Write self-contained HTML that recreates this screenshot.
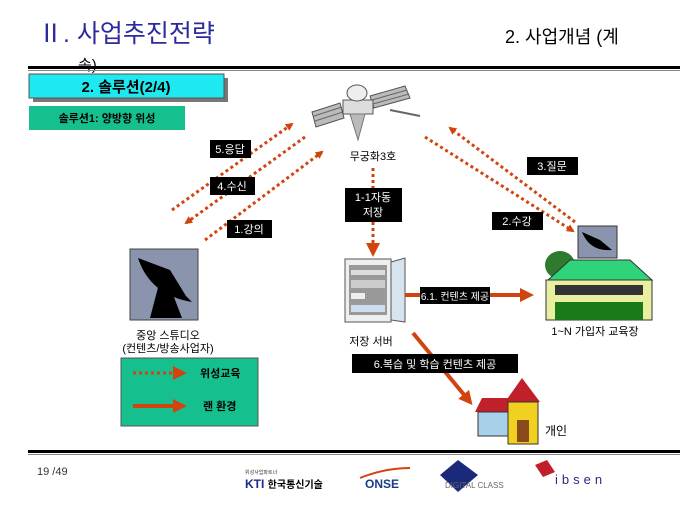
<!DOCTYPE html>
<html><head><meta charset="utf-8"><style>
html,body{margin:0;padding:0;background:#fff;}
svg{display:block;}
text{font-family:"Liberation Sans","Noto Sans CJK KR",sans-serif;}
</style></head><body>
<svg width="680" height="510" viewBox="0 0 680 510" xmlns="http://www.w3.org/2000/svg">
<defs>
<marker id="ah" markerWidth="8" markerHeight="8" refX="6" refY="4" orient="auto" markerUnits="userSpaceOnUse">
<path d="M0,0 L8,4 L0,8 z" fill="#d2440f"/></marker>
<marker id="ah2" markerWidth="14" markerHeight="14" refX="10" refY="7" orient="auto" markerUnits="userSpaceOnUse">
<path d="M0,0 L14,7 L0,14 z" fill="#d2440f"/></marker>
</defs>
<text x="38" y="42" font-size="25" fill="#2b2b9c">Ⅱ. 사업추진전략</text>
<text x="505" y="43" font-size="18" fill="#000">2. 사업개념 (계</text>
<text x="78" y="70" font-size="15" fill="#000">속)</text>
<rect x="28" y="66" width="652" height="3" fill="#000"/>
<rect x="28" y="70" width="652" height="1" fill="#888"/>
<rect x="33" y="78" width="195" height="24" fill="#777"/>
<rect x="29" y="74" width="195" height="24" fill="#1ee8f0" stroke="#555" stroke-width="1"/>
<text x="126" y="92" font-size="15" font-weight="bold" text-anchor="middle">2. 솔루션(2/4)</text>
<rect x="29" y="106" width="156" height="24" fill="#16c08e"/>
<text x="107" y="122" font-size="11" font-weight="bold" text-anchor="middle">솔루션1: 양방향 위성</text>
<g>
<polygon points="312,112 340,103 344,118 316,127" fill="#bbb" stroke="#555"/>
<line x1="314" y1="116" x2="342" y2="107" stroke="#666"/><line x1="315" y1="121" x2="343" y2="112" stroke="#666"/>
<polygon points="370,96 405,86 410,98 374,108" fill="#bbb" stroke="#555"/>
<line x1="372" y1="100" x2="407" y2="90" stroke="#666"/><line x1="373" y1="104" x2="409" y2="94" stroke="#666"/>
<line x1="390" y1="110" x2="420" y2="116" stroke="#666" stroke-width="2"/>
<rect x="343" y="100" width="30" height="14" fill="#ddd" stroke="#555"/>
<ellipse cx="357" cy="93" rx="10" ry="8" fill="#eee" stroke="#555"/>
<polygon points="350,114 365,114 358,140" fill="#bbb" stroke="#777"/>
</g>
<text x="373" y="160" font-size="11" text-anchor="middle">무궁화3호</text>
<g stroke="#d2440f" stroke-width="3" stroke-dasharray="3,3" fill="none">
<line x1="172" y1="210" x2="292" y2="124" marker-end="url(#ah)"/>
<line x1="305" y1="137" x2="186" y2="223" marker-end="url(#ah)"/>
<line x1="205" y1="240" x2="322" y2="152" marker-end="url(#ah)"/>
<line x1="575" y1="222" x2="450" y2="128" marker-end="url(#ah)"/>
<line x1="425" y1="137" x2="573" y2="231" marker-end="url(#ah)"/>
<line x1="373" y1="168" x2="373" y2="253" marker-end="url(#ah2)"/>
</g>
<g font-size="11" fill="#fff">
<rect x="210" y="140" width="41" height="18" fill="#000"/><text x="230" y="153" text-anchor="middle">5.응답</text>
<rect x="210" y="177" width="45" height="18" fill="#000"/><text x="232" y="190" text-anchor="middle">4.수신</text>
<rect x="227" y="220" width="45" height="18" fill="#000"/><text x="249" y="233" text-anchor="middle">1.강의</text>
<rect x="527" y="157" width="51" height="18" fill="#000"/><text x="552" y="170" text-anchor="middle">3.질문</text>
<rect x="492" y="212" width="51" height="18" fill="#000"/><text x="517" y="225" text-anchor="middle">2.수강</text>
<rect x="345" y="188" width="57" height="34" fill="#000"/><text x="373" y="201" text-anchor="middle">1-1자동</text><text x="373" y="216" text-anchor="middle">저장</text>
</g>
<rect x="130" y="249" width="68" height="71" fill="#8a94ad" stroke="#444"/>
<path d="M138,258 Q150,295 192,302 L186,296 L170,270 z" fill="#000"/>
<path d="M160,280 L150,318 L182,318 L172,292 z" fill="#000"/>
<text x="168" y="339" font-size="11" text-anchor="middle">중앙 스튜디오</text>
<text x="168" y="352" font-size="11" text-anchor="middle">(컨텐츠/방송사업자)</text>
<rect x="345" y="259" width="46" height="63" fill="#eee" stroke="#555"/>
<rect x="349" y="265" width="38" height="50" fill="#999"/>
<rect x="351" y="270" width="34" height="5" fill="#ddd"/><rect x="351" y="280" width="34" height="8" fill="#ccc"/>
<rect x="351" y="293" width="14" height="6" fill="#eee"/><rect x="351" y="305" width="34" height="7" fill="#cde"/>
<polygon points="391,262 405,258 405,322 391,320" fill="#d6e4f0" stroke="#555"/>
<text x="371" y="345" font-size="11" text-anchor="middle">저장 서버</text>
<line x1="405" y1="295" x2="530" y2="295" stroke="#d2440f" stroke-width="4" marker-end="url(#ah2)"/>
<rect x="420" y="287" width="70" height="17" fill="#000"/>
<text x="455" y="300" font-size="10" fill="#fff" text-anchor="middle">6.1. 컨텐츠 제공</text>
<rect x="578" y="226" width="39" height="32" fill="#8a94ad" stroke="#333"/>
<path d="M582,232 Q590,252 612,250 L600,240 z" fill="#000"/>
<ellipse cx="560" cy="265" rx="15" ry="14" fill="#2f7a2f"/>
<polygon points="548,280 570,260 630,260 652,280" fill="#2fd47a" stroke="#333"/>
<rect x="546" y="280" width="106" height="40" fill="#e8f0a0" stroke="#333"/>
<rect x="555" y="285" width="88" height="10" fill="#333"/>
<rect x="555" y="302" width="88" height="18" fill="#1a7a1a"/>
<text x="595" y="335" font-size="11" text-anchor="middle">1~N 가입자 교육장</text>
<rect x="121" y="358" width="137" height="68" fill="#16c08e" stroke="#555"/>
<line x1="133" y1="373" x2="183" y2="373" stroke="#d2440f" stroke-width="3" stroke-dasharray="3,3" marker-end="url(#ah2)"/>
<text x="200" y="377" font-size="11" font-weight="bold">위성교육</text>
<line x1="133" y1="406" x2="183" y2="406" stroke="#d2440f" stroke-width="4" marker-end="url(#ah2)"/>
<text x="203" y="410" font-size="11" font-weight="bold">랜 환경</text>
<line x1="413" y1="333" x2="470" y2="402" stroke="#d2440f" stroke-width="4" marker-end="url(#ah2)"/>
<rect x="352" y="354" width="166" height="19" fill="#000"/>
<text x="435" y="368" font-size="11" fill="#fff" text-anchor="middle">6.복습 및 학습 컨텐츠 제공</text>
<polygon points="475,412 482,398 512,398 508,412" fill="#c0202a"/>
<rect x="478" y="412" width="30" height="24" fill="#a8d0e8" stroke="#333"/>
<polygon points="505,402 522,378 540,402" fill="#c0202a"/>
<rect x="508" y="402" width="30" height="42" fill="#f2d020" stroke="#333"/>
<rect x="517" y="420" width="12" height="22" fill="#8a4a1a"/>
<text x="545" y="435" font-size="12">개인</text>
<rect x="28" y="450" width="652" height="3" fill="#000"/>
<rect x="28" y="454" width="652" height="1" fill="#888"/>
<text x="37" y="475" font-size="11" fill="#333">19 /49</text>
<text x="245" y="474" font-size="5" fill="#333">위성사업파트너</text>
<text x="245" y="488" font-size="12" font-weight="bold" fill="#1a2a8a">KTI <tspan fill="#000" font-size="10">한국통신기술</tspan></text>
<text x="365" y="488" font-size="12" font-weight="bold" fill="#1a3a8a">ONSE</text>
<path d="M360,478 Q385,468 410,468" stroke="#d2440f" stroke-width="2" fill="none"/>
<polygon points="458,460 478,475 458,492 440,475" fill="#1a2a7a"/>
<text x="445" y="488" font-size="8" fill="#666">DIGITAL CLASS</text>
<path d="M535,465 l12,-5 l8,12 l-12,5 z" fill="#c0202a"/>
<text x="555" y="484" font-size="13" fill="#2a2a8a" letter-spacing="4">ibsen</text>
</svg>
</body></html>
